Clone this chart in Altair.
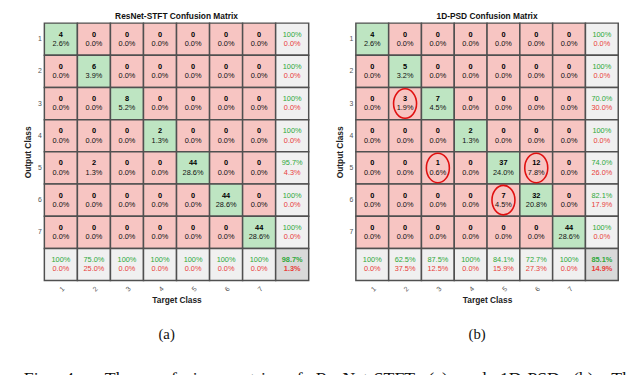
import altair as alt
import pandas as pd

classes = [1, 2, 3, 4, 5, 6, 7]

# ResNet-STFT counts (rows = output class, cols = target class)
counts_a = [
    [4, 0, 0, 0, 0, 0, 0],
    [0, 6, 0, 0, 0, 0, 0],
    [0, 0, 8, 0, 0, 0, 0],
    [0, 0, 0, 2, 0, 0, 0],
    [0, 2, 0, 0, 44, 0, 0],
    [0, 0, 0, 0, 0, 44, 0],
    [0, 0, 0, 0, 0, 0, 44],
]
row_ok_a = ["100%", "100%", "100%", "100%", "95.7%", "100%", "100%"]
row_err_a = ["0.0%", "0.0%", "0.0%", "0.0%", "4.3%", "0.0%", "0.0%"]
col_ok_a = ["100%", "75.0%", "100%", "100%", "100%", "100%", "100%"]
col_err_a = ["0.0%", "25.0%", "0.0%", "0.0%", "0.0%", "0.0%", "0.0%"]
total_a = ["98.7%", "1.3%"]

# 1D-PSD counts
counts_b = [
    [4, 0, 0, 0, 0, 0, 0],
    [0, 5, 0, 0, 0, 0, 0],
    [0, 3, 7, 0, 0, 0, 0],
    [0, 0, 0, 2, 0, 0, 0],
    [0, 0, 1, 0, 37, 12, 0],
    [0, 0, 0, 0, 7, 32, 0],
    [0, 0, 0, 0, 0, 0, 44],
]
row_ok_b = ["100%", "100%", "70.0%", "100%", "74.0%", "82.1%", "100%"]
row_err_b = ["0.0%", "0.0%", "30.0%", "0.0%", "26.0%", "17.9%", "0.0%"]
col_ok_b = ["100%", "62.5%", "87.5%", "100%", "84.1%", "72.7%", "100%"]
col_err_b = ["0.0%", "37.5%", "12.5%", "0.0%", "15.9%", "27.3%", "0.0%"]
total_b = ["85.1%", "14.9%"]

# highlighted cells (row, col) in 1D-PSD matrix
circled_b = [(3, 2), (5, 3), (5, 6), (6, 5)]

caption_words = ["Fig.", "4.", "", "The", "confusion", "matrix", "of", "ResNet-STFT",
                 "(a)", "and", "1D-PSD", "(b).", "Th"]

GREEN_FILL = "#BEE5C2"
RED_FILL = "#F7C5C2"
GRAY_FILL = "#F0F0F0"
DARK_FILL = "#D9D9D9"
GREEN_TXT = "#2FA83A"
RED_TXT = "#E8403A"
FONT = "Liberation Sans"


def build(counts, row_ok, row_err, col_ok, col_err, total):
    total_n = sum(sum(r) for r in counts)
    cells, texts = [], []
    for i in range(8):
        for j in range(8):
            r, c = i + 1, j + 1
            if i < 7 and j < 7:
                n = counts[i][j]
                fill = GREEN_FILL if i == j else RED_FILL
                t1, t2 = str(n), f"{n / total_n * 100:.1f}%"
                c1, c2, b1, b2 = "#000000", "#111111", True, False
            elif i < 7 and j == 7:
                fill = GRAY_FILL
                t1, t2 = row_ok[i], row_err[i]
                c1, c2, b1, b2 = GREEN_TXT, RED_TXT, False, False
            elif i == 7 and j < 7:
                fill = GRAY_FILL
                t1, t2 = col_ok[j], col_err[j]
                c1, c2, b1, b2 = GREEN_TXT, RED_TXT, False, False
            else:
                fill = DARK_FILL
                t1, t2 = total
                c1, c2, b1, b2 = GREEN_TXT, RED_TXT, True, True
            cells.append({"row": r, "col": c, "fill": fill})
            texts.append({"row": r, "col": c, "line": 1, "text": t1, "color": c1, "bold": b1})
            texts.append({"row": r, "col": c, "line": 2, "text": t2, "color": c2, "bold": b2})
    return pd.DataFrame(cells), pd.DataFrame(texts)


X = alt.X("col:O", scale=alt.Scale(paddingInner=0, paddingOuter=0),
          axis=alt.Axis(title="Target Class", labelAngle=-45,
                        labelExpr="datum.value == 8 ? '' : datum.value",
                        labelPadding=4, titlePadding=4))
Y = alt.Y("row:O", scale=alt.Scale(paddingInner=0, paddingOuter=0),
          axis=alt.Axis(title="Output Class",
                        labelExpr="datum.value == 8 ? '' : datum.value",
                        labelPadding=3, titlePadding=5))


def panel(counts, row_ok, row_err, col_ok, col_err, total, title, letter, width, circled=None):
    cells, texts = build(counts, row_ok, row_err, col_ok, col_err, total)
    rect = alt.Chart(cells).mark_rect(stroke="#505050", strokeWidth=1.5).encode(
        x=X, y=Y, fill=alt.Fill("fill:N", scale=None))
    layers = [rect]
    for line, dy in [(1, -4.5), (2, 5)]:
        for bold in [True, False]:
            sub = texts[(texts.line == line) & (texts.bold == bold)]
            if len(sub) == 0:
                continue
            layers.append(
                alt.Chart(sub).mark_text(font=FONT, fontSize=7.5, dy=dy,
                                         fontWeight="bold" if bold else "normal").encode(
                    x="col:O", y="row:O", text="text:N",
                    color=alt.Color("color:N", scale=None)))
    if circled:
        cdf = pd.DataFrame({"row": [p[0] for p in circled], "col": [p[1] for p in circled]})
        layers.append(
            alt.Chart(cdf).mark_point(
                shape="M -0.78 0 A 0.78 1 0 1 0 0.78 0 A 0.78 1 0 1 0 -0.78 0 Z",
                size=900, filled=False, stroke="#E01010", strokeWidth=1.6, opacity=1).encode(
                x="col:O", y="row:O"))
    lay = alt.layer(*layers).properties(
        width=width, height=262,
        title=alt.Title(title, font=FONT, fontSize=8.5, fontWeight="bold", color="#111", offset=2))
    return alt.vconcat(lay, title=alt.Title(letter, orient="bottom", anchor="middle",
                                             font="Liberation Serif", fontSize=15,
                                             fontWeight="normal", color="#111", offset=23))


pa = panel(counts_a, row_ok_a, row_err_a, col_ok_a, col_err_a, total_a,
           "ResNet-STFT Confusion Matrix", "(a)", 269)
pb = panel(counts_b, row_ok_b, row_err_b, col_ok_b, col_err_b, total_b,
           "1D-PSD Confusion Matrix", "(b)", 267, circled_b)

caption = "\u00a0\u00a0\u00a0".join(caption_words)

chart = alt.vconcat(
    alt.hconcat(pa, pb, spacing=26),
    title=alt.Title(caption, orient="bottom", anchor="start", font="Liberation Serif",
                    fontSize=18, fontWeight="normal", color="#111", offset=29),
).properties(padding={"left": 16, "top": 0, "right": 0, "bottom": 0}).configure_view(
    stroke=None).configure_axis(
    ticks=False, domain=False, grid=False, labelFont=FONT, labelFontSize=7, labelColor="#555",
    titleFont=FONT, titleFontSize=8.5, titleFontWeight="bold", titleColor="#222").configure_concat(
    spacing=0)

chart.save("out.html", embed_options={"renderer": "svg", "actions": False})
